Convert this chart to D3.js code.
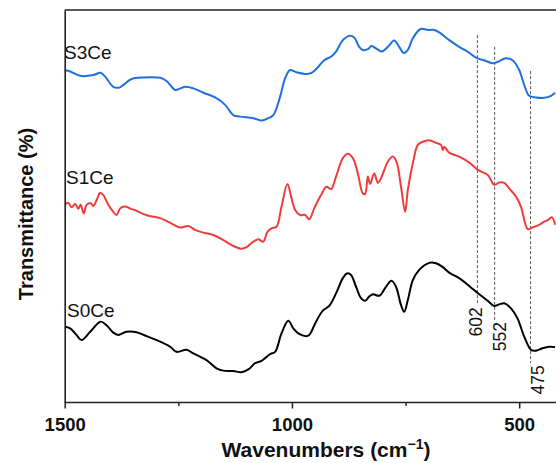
<!DOCTYPE html>
<html>
<head>
<meta charset="utf-8">
<script src="https://cdn.jsdelivr.net/npm/d3@7"></script>
<style>
  body { margin: 0; background: #fff; }
  svg { display: block; font-family: Arial, "Liberation Sans", sans-serif; }
</style>
</head>
<body>
<div id="graphWrapper"></div>
<script>
// spectra (wavenumber in cm-1, transmittance in arbitrary %)
const s3ceWave = [1500,1488,1466,1437,1421,1411,1393,1380,1371,1353,1327,1290,1276,1257,1250,1235,1217,1195,1169,1147,1129,1114,1085,1067,1056,1041,1026,1015,1004,990,971,958,947,929,914,903,888,874,863,852,844,833,825,815,802,789,775,764,754,745,734,716,701,687,676,654,632,610,594,573,558,547,529,514,500,489,478,463,445,430,421];
const s3ceT = [84.7,84.3,83.2,83.4,84.0,83.0,80.4,80.2,80.9,82.4,82.8,82.7,81.9,79.6,79.8,80.4,80.0,78.9,77.7,75.8,73.2,72.8,72.4,71.8,72.2,73.2,77.9,82.6,84.7,84.1,83.7,83.9,84.9,87.2,88.1,89.4,92.3,93.4,93.0,90.6,89.8,90.0,90.8,90.2,89.4,90.6,92.2,90.6,89.0,89.8,92.8,95.2,94.9,94.9,94.3,92.3,90.6,89.1,87.8,87.0,86.4,86.8,87.7,87.1,84.7,80.9,78.1,77.7,77.6,78.1,78.9];

const s1ceWave = [1500,1492,1485,1477,1470,1465,1458,1452,1443,1437,1428,1422,1415,1404,1393,1386,1378,1371,1364,1353,1342,1334,1316,1290,1268,1246,1228,1213,1195,1173,1151,1129,1111,1100,1085,1074,1063,1054,1045,1034,1023,1010,1001,993,982,971,962,951,936,924,914,903,888,877,866,855,844,839,833,828,819,811,804,789,778,770,760,751,745,734,723,712,698,683,672,668,665,654,632,610,591,569,555,544,533,522,507,496,481,471,456,445,437,428,421];
const s1ceT = [50.3,50.8,49.7,50.5,49.3,50.3,48.1,50.3,50.7,50.0,52.0,53.4,52.8,50.3,48.5,47.7,49.4,49.8,49.8,49.2,48.8,48.3,47.5,46.9,45.7,44.5,44.9,43.9,43.2,42.6,41.3,39.8,39.1,39.5,40.9,41.5,40.9,43.4,44.3,44.7,49.8,55.6,52.0,49.0,47.7,47.7,46.6,49.4,52.8,54.9,54.3,57.5,62.2,63.3,62.2,58.3,53.2,53.1,57.5,55.6,58.3,55.9,57.1,61.3,62.6,61.3,54.9,48.5,54.1,60.9,65.6,66.4,66.8,66.1,65.6,64.3,65.1,63.6,62.6,61.1,59.2,57.9,55.4,56.0,55.9,54.5,52.4,49.8,44.1,44.5,45.2,46.0,46.4,47.1,45.2];

const s0ceWave = [1500,1488,1474,1463,1444,1421,1408,1393,1382,1364,1342,1320,1290,1268,1254,1232,1217,1188,1166,1151,1129,1111,1096,1081,1067,1048,1037,1023,1008,997,986,969,962,947,932,918,903,888,879,870,859,848,839,830,822,808,793,781,771,760,753,745,734,720,698,683,668,654,632,610,588,569,555,544,533,518,504,489,474,463,449,434,421];
const s0ceT = [19.2,18.8,17.1,15.8,17.9,20.5,19.6,17.7,17.1,17.9,17.8,16.8,15.4,14.1,12.8,13.3,12.4,10.7,8.6,8.0,7.9,7.6,8.3,9.9,10.5,12.2,12.8,17.5,20.7,18.8,17.5,16.8,17.1,20.5,23.3,24.5,27.7,31.6,32.8,32.4,29.4,26.5,25.8,26.9,27.5,27.1,29.4,30.9,29.4,24.7,23.0,26.0,31.1,33.7,35.5,35.4,34.4,33.0,31.6,29.6,27.5,25.8,24.5,24.9,25.2,23.9,21.4,16.7,13.3,13.1,13.7,14.1,14.0];

const seriesNames = ['S3Ce', 'S1Ce', 'S0Ce'];
const seriesColors = ['#1f6fe0', '#f03c3c', '#000000'];

// dashed marker lines
const markerWave = [592, 554, 475];
const markerTop = [93.6, 90.6, 84.4];
const markerBottom = [24.7, 20.9, 9.9];
const markerLabels = ['602', '552', '475'];

const xTicks = [1500, 1000, 500];
const xMinorTicks = [1250, 750];

//layout constants
const CONSTANTS = {
    WIDTH: 556,
    HEIGHT: 463,
    LEFT: 64.7,
    RIGHT: 556,
    TOP: 10,
    BOTTOM: 402
};

const svg = d3.select('#graphWrapper')
    .append('svg')
    .attr('width', CONSTANTS.WIDTH)
    .attr('height', CONSTANTS.HEIGHT);

const x = d3.scaleLinear().domain([1500, 419]).range([CONSTANTS.LEFT, CONSTANTS.RIGHT]);
const y = d3.scaleLinear().domain([0, 100]).range([CONSTANTS.BOTTOM, CONSTANTS.TOP]);

svg.append('clipPath').attr('id', 'plotClip')
    .append('rect')
    .attr('x', CONSTANTS.LEFT).attr('y', CONSTANTS.TOP)
    .attr('width', CONSTANTS.RIGHT - CONSTANTS.LEFT)
    .attr('height', CONSTANTS.BOTTOM - CONSTANTS.TOP);

//dashed marker lines
const markers = svg.append('g').attr('class', 'markers');
markerWave.forEach((w, i) => {
    markers.append('line')
        .attr('x1', x(w)).attr('x2', x(w))
        .attr('y1', y(markerTop[i])).attr('y2', y(markerBottom[i]))
        .attr('stroke', '#555')
        .attr('stroke-width', 1)
        .attr('stroke-dasharray', '3,2');
});
const labelShift = [-1.5, 5, 7.5];
markerWave.forEach((w, i) => {
    markers.append('text')
        .attr('transform', 'translate(' + (x(w) + labelShift[i]) + ',' + (y(markerBottom[i]) + 2) + ') rotate(-90)')
        .attr('text-anchor', 'end')
        .attr('dy', '0.35em')
        .attr('font-size', '17.5px')
        .attr('fill', '#111')
        .text(markerLabels[i]);
});

//spectra
const waves = [s3ceWave, s1ceWave, s0ceWave];
const values = [s3ceT, s1ceT, s0ceT];
const line = d3.line()
    .x(d => x(d[0]))
    .y(d => y(d[1]))
    .curve(d3.curveCatmullRom.alpha(0.5));

const plot = svg.append('g').attr('clip-path', 'url(#plotClip)');
waves.forEach((wv, i) => {
    const pts = wv.map((w, j) => [w, values[i][j]]);
    plot.append('path')
        .datum(pts)
        .attr('fill', 'none')
        .attr('stroke', seriesColors[i])
        .attr('stroke-width', 2)
        .attr('stroke-linejoin', 'round')
        .attr('d', line);
});

//series labels
const labelPos = [[64, 59], [66, 184], [67, 316.5]];
seriesNames.forEach((n, i) => {
    svg.append('text')
        .attr('x', labelPos[i][0])
        .attr('y', labelPos[i][1])
        .attr('font-size', '19px')
        .attr('fill', '#111')
        .text(n);
});

//axes
const xAxis = d3.axisBottom(x).tickValues(xTicks).tickSize(6.5).tickSizeOuter(0).tickFormat(d3.format('d'));
const gx = svg.append('g')
    .attr('transform', 'translate(0,' + CONSTANTS.BOTTOM + ')')
    .call(xAxis);
gx.selectAll('.tick line').attr('stroke', '#222').attr('stroke-width', 1.5);
gx.select('.domain').attr('stroke', '#222').attr('stroke-width', 1.6);
gx.selectAll('.tick text')
    .attr('font-size', '18.5px')
    .attr('font-weight', 'bold')
    .attr('font-family', 'Arial, "Liberation Sans", sans-serif')
    .attr('fill', '#111')
    .attr('dy', 0)
    .attr('y', 29);

const xMinor = d3.axisBottom(x).tickValues(xMinorTicks).tickSize(4).tickSizeOuter(0).tickFormat('');
const gxm = svg.append('g')
    .attr('transform', 'translate(0,' + CONSTANTS.BOTTOM + ')')
    .call(xMinor);
gxm.select('.domain').remove();
gxm.selectAll('.tick line').attr('stroke', '#222').attr('stroke-width', 1.5);

const yAxis = d3.axisLeft(y).tickValues([]).tickSizeOuter(0);
const gy = svg.append('g')
    .attr('transform', 'translate(' + CONSTANTS.LEFT + ',0)')
    .call(yAxis);
gy.select('.domain').attr('stroke', '#222').attr('stroke-width', 1.6);

//top frame line
svg.append('line')
    .attr('x1', CONSTANTS.LEFT).attr('x2', CONSTANTS.RIGHT)
    .attr('y1', CONSTANTS.TOP).attr('y2', CONSTANTS.TOP)
    .attr('stroke', '#222').attr('stroke-width', 1.6);

//axis titles
const xTitle = svg.append('text')
    .attr('x', 326)
    .attr('y', 456.5)
    .attr('text-anchor', 'middle')
    .attr('font-size', '21px')
    .attr('font-weight', 'bold')
    .attr('fill', '#111');
xTitle.append('tspan').text('Wavenumbers (cm');
xTitle.append('tspan').attr('font-size', '14px').attr('dy', -8).text('\u22121');
xTitle.append('tspan').attr('dy', 8).text(')');

svg.append('text')
    .attr('transform', 'translate(33,214) rotate(-90)')
    .attr('text-anchor', 'middle')
    .attr('font-size', '20px')
    .attr('font-weight', 'bold')
    .attr('fill', '#111')
    .text('Transmittance (%)');
</script>
</body>
</html>
